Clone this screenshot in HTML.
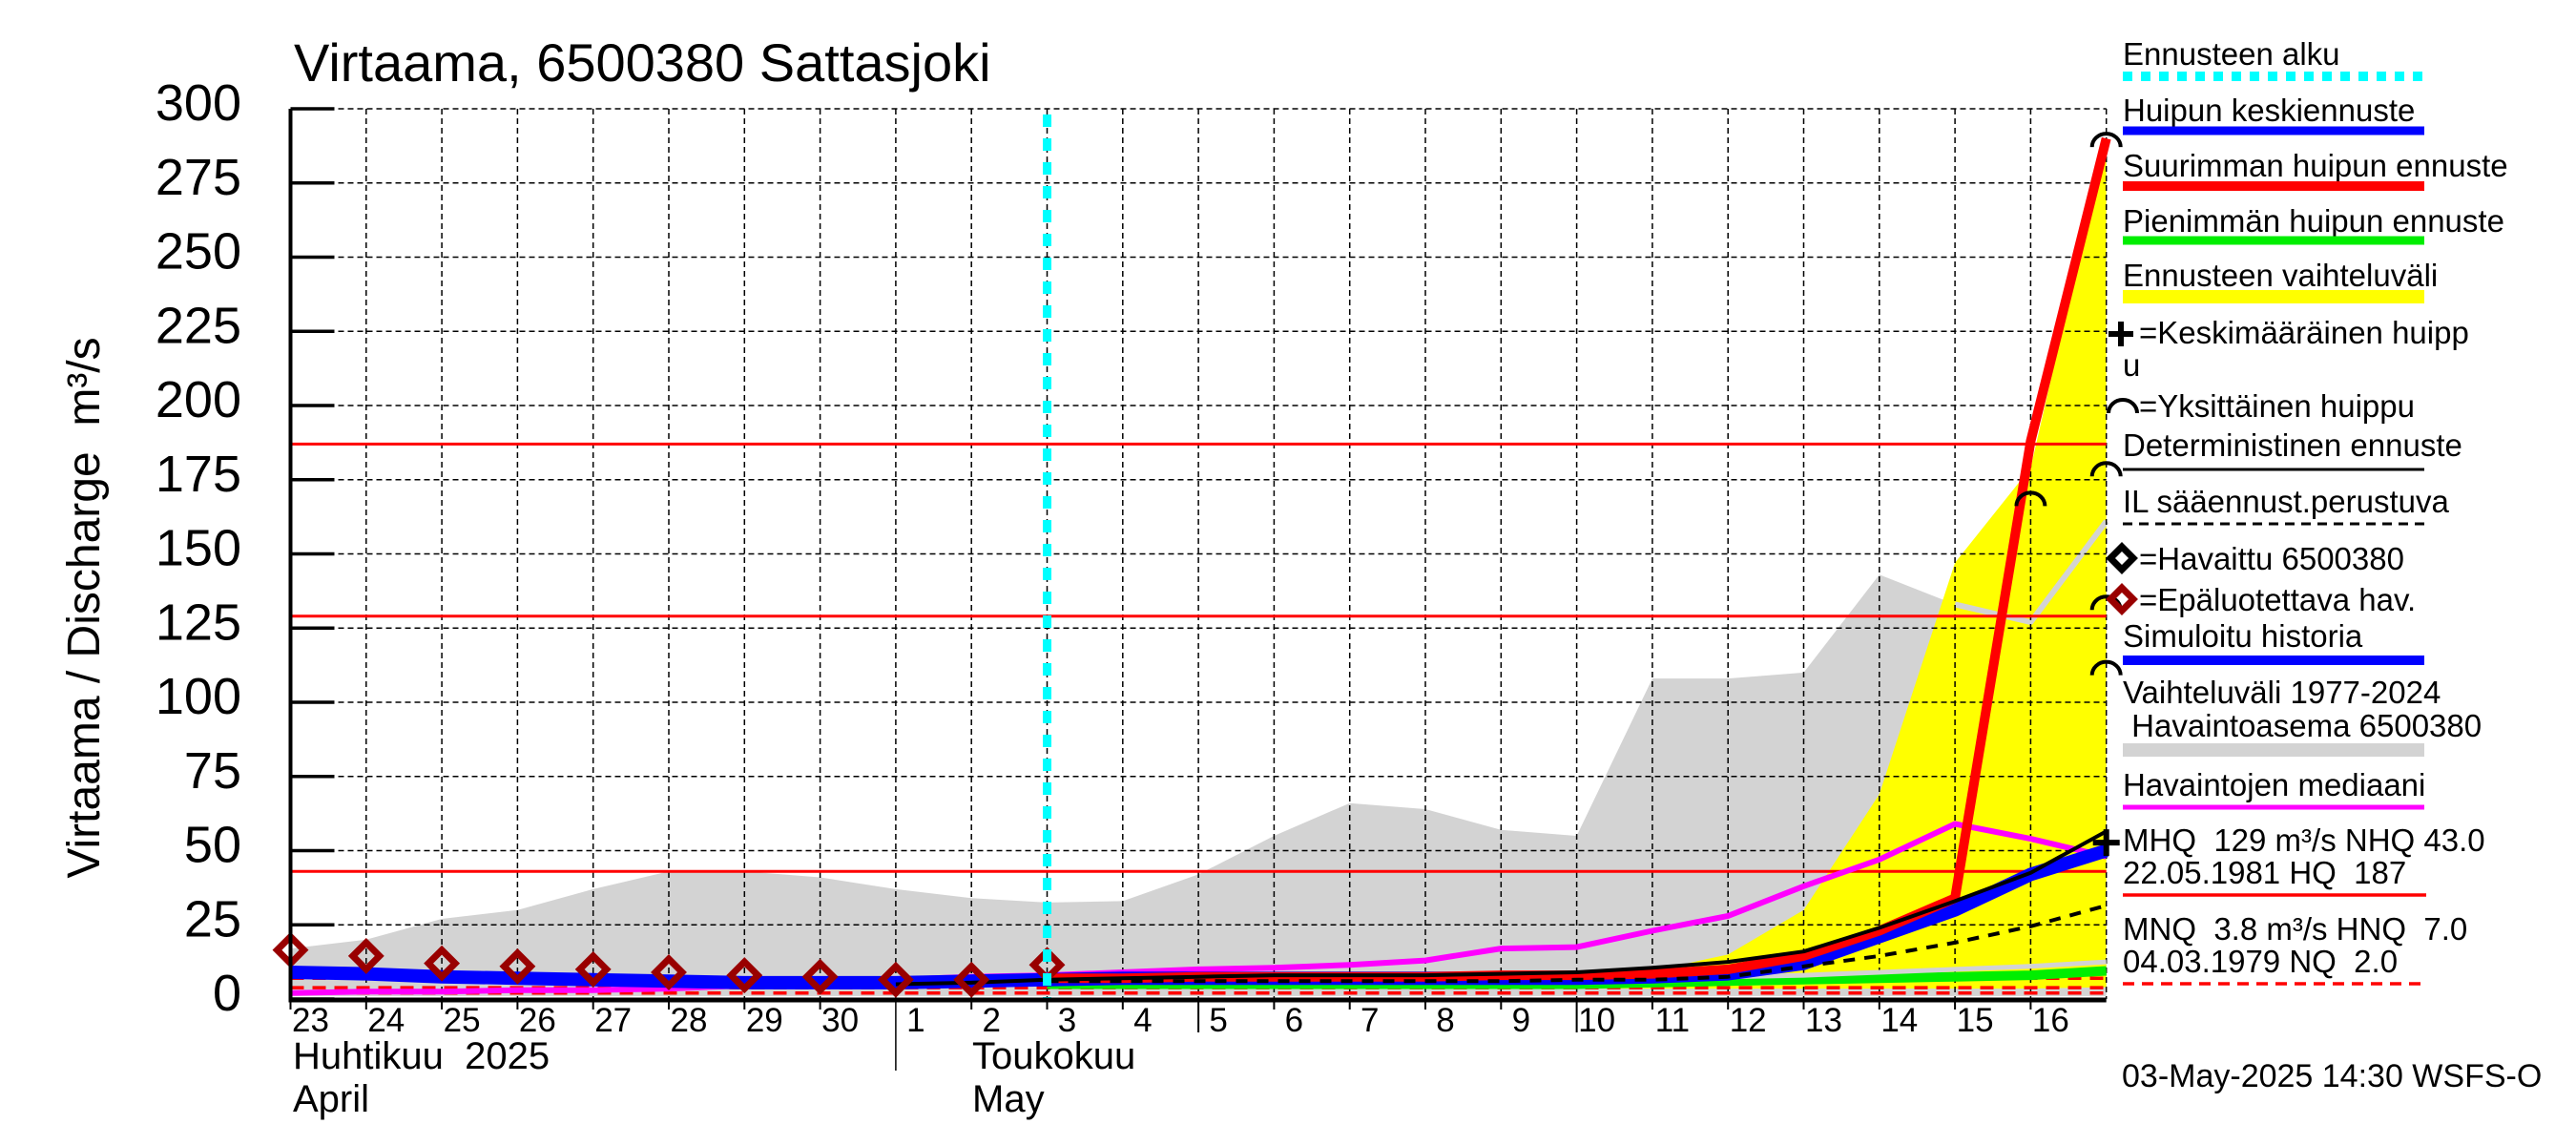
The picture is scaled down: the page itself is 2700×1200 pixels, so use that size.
<!DOCTYPE html>
<html><head><meta charset="utf-8"><style>
html,body{margin:0;padding:0;background:#fff;}
svg{display:block;font-family:"Liberation Sans",sans-serif;}
svg text{white-space:pre;}
</style></head><body>
<svg id="chart" width="2700" height="1200" viewBox="0 0 2700 1200" xmlns="http://www.w3.org/2000/svg">
<g id="layer-fill"></g>
<g id="layer-grid"></g>
<g id="layer-lines"></g>
<g id="layer-marks"></g>
<g id="layer-axes"></g>
<g id="layer-legend"></g>
</svg>
<script>
// ---- data ----
const dayLabels = ["23","24","25","26","27","28","29","30","1","2","3","4","5","6","7","8","9","10","11","12","13","14","15","16"];
const yTicks = [0,25,50,75,100,125,150,175,200,225,250,275,300];
const rangeUpper = [17,20,27,30,37,43,43,41,37,34,32.5,33,42,55,66,64,57,55,108,108,110,143,133,127,161];
const rangeLower = [1,1,1,1,1,1,1,1,1,1,1,1,1,1,1,1,1,1,1,1,1,1,1,1,1];
const fcStart = 10;
const fcUpper = [7,7.5,8,8.5,9,9,9,9,9.5,15,30,69,147,179,290];
const fcLower = [5,5,4.5,4.5,4.5,4,4,3.5,3.5,3.5,3.5,3.5,3.5,3.5,4];
const minPeak = [5,5,5,5,5,5,5,5,5.5,6,6.5,7,7.5,8,9.5];
const lowGray = [6,6,6,6,6,6,6.5,6.5,7,7.5,8,9,10,11,12.5];
const maxPeak = [7,7,7.5,7.5,7.5,7.5,8,8,8.5,10,14.5,23,34,188,290];
const meanPeak = [9,8.5,7.5,7,6.5,6,5.5,5.5,5.5,6,6.5,7,7,7,7,7,7,7,7.5,8.5,12,21,30,42,50];
const detStart = 8;
const deterministic = [5,5.5,6.5,7,7.5,8,8,8,8.5,9,10.5,12.5,16,24,33,42.5,56.5];
const ilForecast = [6,6,6,6,6,6,6,6.5,6.5,7.5,11,14.5,19,24.5,31.5];
const median = [2,2.5,2.5,3,3,3.5,4.5,5.5,6.5,7.5,8,9,10,10.5,11.5,13,17,17.5,23,28,38,47,59,54,48];
const unreliable = [16.5,14.5,12,11,10,9,8,7.5,6.5,6.5,11.5];
const peakDays = [24,24,24,24,23];
const peakVals = [290,179,134,112,169];
const meanPeakDay = [24];
const meanPeakVal = [52.7];
const hLines = [187,129,43];
const lowLines = [7.0,3.8,2.0];

// ---- scales ----
const X0=304.5, DX=79.3, Y0=1047, KY=3.11;
const xs = d => X0 + DX*d;
const ys = v => Y0 - KY*v;
const NS="http://www.w3.org/2000/svg";
function mk(tag, parent){const e=document.createElementNS(NS,tag);parent.appendChild(e);return e;}
function sa(e,o){for(const k in o)e.setAttribute(k,o[k]);return e;}
const gF=document.getElementById('layer-fill'), gG=document.getElementById('layer-grid'),
      gL=document.getElementById('layer-lines'), gM=document.getElementById('layer-marks'),
      gA=document.getElementById('layer-axes'), gLeg=document.getElementById('layer-legend');
function pts(arr, start){return arr.map((v,i)=>xs(start+i).toFixed(1)+','+ys(v).toFixed(1)).join(' ');}
function band(up, lo, start, fill, parent, name){
  const p=mk('polygon',parent);
  const a=up.map((v,i)=>xs(start+i).toFixed(1)+','+ys(v).toFixed(1));
  const b=lo.map((v,i)=>xs(start+i).toFixed(1)+','+ys(v).toFixed(1)).reverse();
  sa(p,{points:a.concat(b).join(' '),fill:fill});
  
  
  return p;
}
function line(arr,start,color,w,parent,name,dash){
  const p=mk('polyline',parent);
  sa(p,{points:pts(arr,start),fill:'none',stroke:color,'stroke-width':w,'stroke-linejoin':'round'});
  if(dash)p.setAttribute('stroke-dasharray',dash);
  
  
  return p;
}

band(rangeUpper, rangeLower, 0, '#d3d3d3', gF, 'historical-range-band');
band(fcUpper, fcLower, fcStart, '#ffff00', gF, 'forecast-range-band');
line(rangeUpper.slice(22), 22, '#d3d3d3', 6, gF, 'historical-range-upper-line');

const right = xs(dayLabels.length);
yTicks.forEach(v=>{ if(v===0) return;
  const l=mk('line',gG); sa(l,{x1:X0,x2:right,y1:ys(v),y2:ys(v),stroke:'#000','stroke-width':1.5,'stroke-dasharray':'6,4'});
  
  
});
for(let d=1; d<=dayLabels.length; d++){
  const l=mk('line',gG); sa(l,{x1:xs(d),x2:xs(d),y1:ys(300),y2:Y0,stroke:'#000','stroke-width':1.5,'stroke-dasharray':'6,4'});
  
  
}
hLines.forEach(v=>{
  const l=mk('line',gG); sa(l,{x1:X0,x2:right,y1:ys(v),y2:ys(v),stroke:'#ff0000','stroke-width':3});
  
  
});
lowLines.forEach(v=>{
  const l=mk('line',gG); sa(l,{x1:X0,x2:right,y1:ys(v),y2:ys(v),stroke:'#ff0000','stroke-width':3.5,'stroke-dasharray':'14,9'});
  
  
});

line(minPeak, fcStart, '#00ee00', 10, gL, 'min-peak-forecast');
line(lowGray, fcStart, '#d3d3d3', 5, gL, 'forecast-lower-line');
line(median, 0, '#ff00ff', 6, gL, 'observed-median');
line(meanPeak, 0, '#0000ff', 14, gL, 'mean-peak-forecast');
line(maxPeak, fcStart, '#ff0000', 10, gL, 'max-peak-forecast');
line(deterministic, detStart, '#000000', 4, gL, 'deterministic-forecast');
line(ilForecast, fcStart, '#000000', 4, gL, 'il-weather-forecast', '12,10');

unreliable.forEach((v,i)=>{
  const x=xs(i), y=ys(v), r=14;
  const p=mk('polygon',gM); sa(p,{points:`${x},${y-r} ${x+r},${y} ${x},${y+r} ${x-r},${y}`,fill:'none',stroke:'#990000','stroke-width':7});
  
  
});
(function(){
  const l=mk('line',gM); sa(l,{x1:xs(fcStart),x2:xs(fcStart),y1:ys(300)+6,y2:Y0+2,stroke:'#00ffff','stroke-width':9,'stroke-dasharray':'13,12'});
  
  
})();
function arc(x,y,parent){
  const p=mk('path',parent); sa(p,{d:`M${x-15},${y+8} A15 14 0 0 1 ${x+15},${y+8}`,fill:'none',stroke:'#000','stroke-width':4});
  return p;
}
peakVals.forEach((v,i)=>{
  const p=arc(xs(peakDays[i]), ys(v)+1, gM);
  
  
});
meanPeakVal.forEach((v,i)=>{
  const x=xs(meanPeakDay[i]), y=ys(v);
  const p=mk('path',gM); sa(p,{d:`M${x-14},${y} H${x+14} M${x},${y-14} V${y+14}`,stroke:'#000','stroke-width':6});
  
  
});

(function(){
  const la=mk('line',gA); sa(la,{x1:X0,x2:X0,y1:ys(300),y2:Y0+3,stroke:'#000','stroke-width':4});
  
  
  const ba=mk('line',gA); sa(ba,{x1:X0-2,x2:right,y1:Y0+1,y2:Y0+1,stroke:'#000','stroke-width':5});
  
  
})();
yTicks.forEach(v=>{
  const t=mk('line',gA); sa(t,{x1:X0,x2:X0+46,y1:ys(v),y2:ys(v),stroke:'#000','stroke-width':3.5});
  
  
  const tx=mk('text',gA); sa(tx,{x:253,y:ys(v)+12,'font-size':54,'text-anchor':'end'}); tx.textContent=String(v);
  
  
});
dayLabels.forEach((lab,d)=>{
  const long = (d===8)?1122:((d===12||d===17)?1082:1058);
  const t=mk('line',gA); sa(t,{x1:xs(d),x2:xs(d),y1:Y0,y2:long,stroke:'#000','stroke-width':(d===8?1.5:2)});
  
  
  const tx=mk('text',gA); sa(tx,{x:xs(d)+21,y:1081,'font-size':35,'text-anchor':'middle'}); tx.textContent=lab;
  
  
});
</script>
<script>
(function(){
const NS="http://www.w3.org/2000/svg";
const svg=document.getElementById('chart');
const gLeg=document.getElementById('layer-legend');
function txt(x,y,s,str,name,parent,extra){
  const t=document.createElementNS(NS,'text');
  t.setAttribute('x',x);t.setAttribute('y',y);t.setAttribute('font-size',s);
  if(extra)for(const k in extra)t.setAttribute(k,extra[k]);
  t.textContent=str;
  
  
  (parent||svg).appendChild(t);return t;
}
function ln(x1,y1,x2,y2,c,w,name,dash){
  const l=document.createElementNS(NS,'line');
  l.setAttribute('x1',x1);l.setAttribute('y1',y1);l.setAttribute('x2',x2);l.setAttribute('y2',y2);
  l.setAttribute('stroke',c);l.setAttribute('stroke-width',w);
  if(dash)l.setAttribute('stroke-dasharray',dash);
  
  
  gLeg.appendChild(l);return l;
}
txt(308,85,56,'Virtaama, 6500380 Sattasjoki','chart-title');
txt(0,0,48,'Virtaama / Discharge','y-axis-title',null,{transform:'translate(104,697) rotate(-90)','text-anchor':'middle'});
txt(0,0,48,'m³/s','y-axis-unit',null,{transform:'translate(104,400) rotate(-90)','text-anchor':'middle'});
txt(307,1120,40,'Huhtikuu  2025','month-label-april-fi');
txt(307,1165,40,'April','month-label-april-en');
txt(1019,1120,40,'Toukokuu','month-label-may-fi');
txt(1019,1165,40,'May','month-label-may-en');
txt(2224,1139,34,'03-May-2025 14:30 WSFS-O','timestamp');

const L=2225, R=2541, fs=33;
txt(L,68,fs,'Ennusteen alku','legend-forecast-start',gLeg); ln(L,80,R,80,'#00ffff',10,'legend-forecast-start-swatch','10,9');
txt(L,127,fs,'Huipun keskiennuste','legend-mean-peak',gLeg); ln(L,137,R,137,'#0000ff',9,'legend-mean-peak-swatch');
txt(L,185,fs,'Suurimman huipun ennuste','legend-max-peak',gLeg); ln(L,195,R,195,'#ff0000',10,'legend-max-peak-swatch');
txt(L,243,fs,'Pienimmän huipun ennuste','legend-min-peak',gLeg); ln(L,252,R,252,'#00ee00',9,'legend-min-peak-swatch');
txt(L,300,fs,'Ennusteen vaihteluväli','legend-forecast-range',gLeg); ln(L,311,R,311,'#ffff00',14,'legend-forecast-range-swatch');
const pl=document.createElementNS(NS,'path');pl.setAttribute('d','M2210,350 H2236 M2223,337 V363');pl.setAttribute('stroke','#000');pl.setAttribute('stroke-width',6);


gLeg.appendChild(pl);
txt(2242,360,fs,'=Keskimääräinen huipp','legend-mean-peak-marker',gLeg);
txt(L,394,fs,'u','legend-mean-peak-marker-wrap',gLeg);
const ar=document.createElementNS(NS,'path');ar.setAttribute('d','M2210,433 A15 14 0 0 1 2240,433');ar.setAttribute('fill','none');ar.setAttribute('stroke','#000');ar.setAttribute('stroke-width',4);


gLeg.appendChild(ar);
txt(2242,437,fs,'=Yksittäinen huippu','legend-single-peak',gLeg);
txt(L,478,fs,'Deterministinen ennuste','legend-deterministic',gLeg); ln(L,492,R,492,'#000',3,'legend-deterministic-swatch');
txt(L,537,fs,'IL sääennust.perustuva','legend-il-forecast',gLeg); ln(L,549,R,549,'#000',3,'legend-il-forecast-swatch','10,7');
function dia(cx,cy,c,name){const p=document.createElementNS(NS,'polygon');const r=12;
  p.setAttribute('points',`${cx},${cy-r} ${cx+r},${cy} ${cx},${cy+r} ${cx-r},${cy}`);p.setAttribute('fill','none');p.setAttribute('stroke',c);p.setAttribute('stroke-width',7);
  
  
  gLeg.appendChild(p);}
dia(2224,585,'#000','legend-observed-symbol');
txt(2242,597,fs,'=Havaittu 6500380','legend-observed',gLeg);
dia(2224,628,'#990000','legend-unreliable-symbol');
txt(2242,640,fs,'=Epäluotettava hav.','legend-unreliable',gLeg);
txt(L,678,fs,'Simuloitu historia','legend-simulated-history',gLeg); ln(L,692,R,692,'#0000ff',10,'legend-simulated-history-swatch');
txt(L,737,fs,'Vaihteluväli 1977-2024','legend-historical-range',gLeg);
txt(L,772,fs,' Havaintoasema 6500380','legend-historical-range-station',gLeg);
ln(L,786,R,786,'#d3d3d3',14,'legend-historical-range-swatch');
txt(L,834,fs,'Havaintojen mediaani','legend-median',gLeg); ln(L,846,R,846,'#ff00ff',5,'legend-median-swatch');
txt(L,892,fs,'MHQ  129 m³/s NHQ 43.0','legend-mhq',gLeg);
txt(L,926,fs,'22.05.1981 HQ  187','legend-hq',gLeg); ln(L,938,2543,938,'#ff0000',3.5,'legend-hq-swatch');
txt(L,985,fs,'MNQ  3.8 m³/s HNQ  7.0','legend-mnq',gLeg);
txt(L,1019,fs,'04.03.1979 NQ  2.0','legend-nq',gLeg); ln(L,1031,2543,1031,'#ff0000',3.5,'legend-nq-swatch','12,8');
})();
</script>
</body></html>
